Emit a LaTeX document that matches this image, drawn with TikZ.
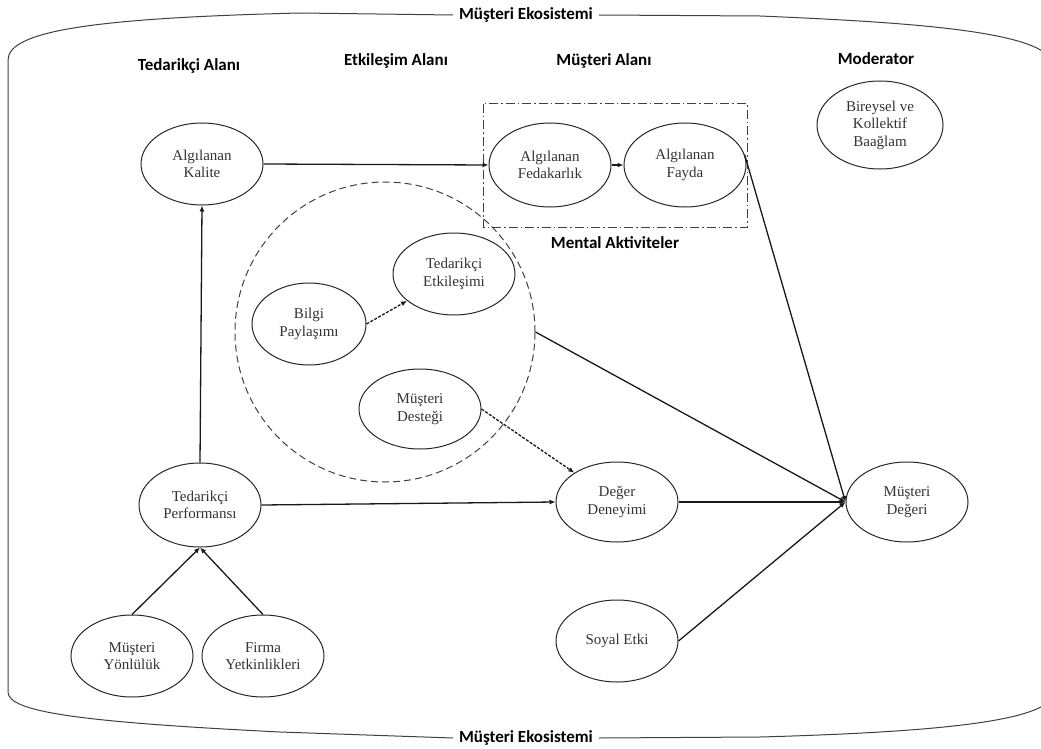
\documentclass[tikz,border=0pt]{standalone}
\usepackage{fontspec}
\setmainfont{Liberation Serif}
\newfontfamily\headfont{Carlito}
\usetikzlibrary{shapes.geometric,arrows.meta}
\begin{document}
\begin{tikzpicture}[x=1pt,y=-1pt,
  concept/.style={draw=black!85,ellipse,line width=1pt,inner sep=0pt,
    minimum width=122pt,minimum height=82pt,align=center,
    font=\fontsize{15}{17.5}\selectfont,text=black!80},
  heading/.style={font=\headfont\bfseries\fontsize{17}{20}\selectfont,text=black},
  link/.style={line width=1.3pt,draw=black!90,-{Latex[length=6pt,width=5pt]}},
  weaklink/.style={link,dash pattern=on 3pt off 1.5pt},
  frame/.style={line width=1pt,draw=black!75}]
\useasboundingbox (0,0) rectangle (1041,749);
\clip (0,0) rectangle (1041,749);

% ecosystem boundary and its two labels
\node[heading,inner xsep=6pt] (ecotop) at (526,15) {Müşteri Ekosistemi};
\node[heading,inner xsep=6pt] (ecobot) at (526,738) {Müşteri Ekosistemi};
\draw[frame] (ecotop.west) -- (300,13) .. controls (100,18) and (8,30) .. (8,60)
  -- (8,692) .. controls (8,712) and (80,722) .. (280,732) -- (ecobot.west);
\draw[frame] (ecobot.east) -- (760,737) .. controls (900,733) and (1030,725) .. (1050,700)
  -- (1050,58) .. controls (1030,30) and (900,22) .. (760,16) -- (ecotop.east);

% column headings
\node[heading] (hsup) at (189,66) {Tedarikçi Alanı};
\node[heading] (hint) at (396,61) {Etkileşim Alanı};
\node[heading] (hcus) at (604,61) {Müşteri Alanı};
\node[heading] (hmod) at (876,59) {Moderator};

% mental activities box
\draw[line width=1pt,draw=black!75,dash pattern=on 9pt off 3pt on 1.5pt off 3pt]
  (483,104) rectangle (747,227);
\node[heading] (mental) at (615,243) {Mental Aktiviteler};

% interaction area
\node[draw=black!75,circle,line width=1pt,dash pattern=on 7pt off 4pt,
  minimum size=300pt,inner sep=0pt] (interact) at (385,332) {};

% concepts
\node[concept] (kalite) at (202,164) {Algılanan\\Kalite};
\node[concept,minimum height=84pt] (fedakar) at (550,165) {Algılanan\\Fedakarlık};
\node[concept,minimum height=84pt] (fayda) at (685,165) {Algılanan\\Fayda};
\node[concept,minimum width=126pt,minimum height=88pt] (baglam) at (880,125) {Bireysel ve\\Kollektif\\Baağlam};
\node[concept,minimum width=114pt] (bilgi) at (309,324) {Bilgi\\Paylaşımı};
\node[concept] (tetk) at (454,274) {Tedarikçi\\Etkileşimi};
\node[concept,minimum height=80pt] (destek) at (420,409) {Müşteri\\Desteği};
\node[concept,minimum height=84pt] (perf) at (200,505) {Tedarikçi\\Performansı};
\node[concept] (yon) at (132,656) {Müşteri\\Yönlülük};
\node[concept] (firma) at (263,656) {Firma\\Yetkinlikleri};
\node[concept,minimum height=80pt] (deneyim) at (617,502) {Değer\\Deneyimi};
\node[concept,minimum height=80pt] (deger) at (907,502) {Müşteri\\Değeri};
\node[concept] (soyal) at (617,641) {Soyal Etki};

% relations
\draw[link] (kalite.east) -- (fedakar.west);
\draw[link] (fedakar.east) -- (fayda.west);
\draw[link] (perf.north) -- (kalite.south);
\draw[link] (perf.east) -- (deneyim.west);
\draw[link] (yon.north) -- (perf.south);
\draw[link] (firma.north) -- (perf.south);
\draw[weaklink] (bilgi.east) -- (tetk);
\draw[weaklink] (destek.east) -- (deneyim);
\draw[link] (fayda.10) -- (deger.west);
\draw[link] (interact.east) -- (deger.west);
\draw[link] (deneyim.east) -- (deger.west);
\draw[link] (soyal.east) -- (deger.west);
\end{tikzpicture}
\end{document}
